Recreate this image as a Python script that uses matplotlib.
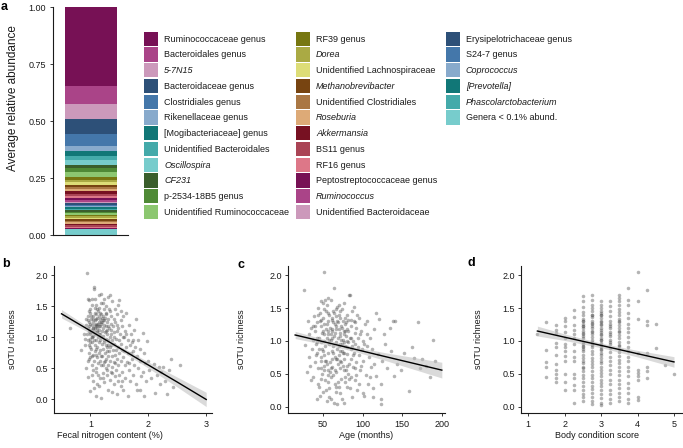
import numpy as np
import matplotlib

matplotlib.use("Agg")
import matplotlib.pyplot as plt
from matplotlib.patches import Rectangle

plt.rcParams["font.family"] = ["Liberation Sans", "DejaVu Sans"]

# ---- panel a: genus composition (top of stack first) ----
genera = [
    "Ruminococcaceae genus", "Bacteroidales genus", "5-7N15", "Bacteroidaceae genus",
    "Clostridiales genus", "Rikenellaceae genus", "[Mogibacteriaceae] genus",
    "Unidentified Bacteroidales", "Oscillospira", "CF231", "p-2534-18B5 genus",
    "Unidentified Ruminococcaceae", "RF39 genus", "Dorea", "Unidentified Lachnospiraceae",
    "Methanobrevibacter", "Unidentified Clostridiales", "Roseburia", "Akkermansia",
    "BS11 genus", "RF16 genus", "Peptostreptococcaceae genus", "Ruminococcus",
    "Unidentified Bacteroidaceae", "Erysipelotrichaceae genus", "S24-7 genus",
    "Coprococcus", "[Prevotella]", "Phascolarctobacterium",
]
genus_abund = [
    0.347, 0.076, 0.067, 0.067, 0.050, 0.023, 0.022, 0.018, 0.022, 0.014,
    0.019, 0.018, 0.015, 0.011, 0.012, 0.009, 0.009, 0.009, 0.012, 0.008,
    0.009, 0.009, 0.009, 0.006, 0.005, 0.006, 0.006, 0.006, 0.006,
]
# further genera drawn in the bar but not named in the legend
other_abund = [0.008, 0.007, 0.007, 0.006, 0.006, 0.007, 0.006, 0.007, 0.006,
               0.006, 0.007, 0.006, 0.006]
rare_label = "Genera < 0.1% abund."
rare_abund = 0.025
italic_names = {"5-7N15", "Oscillospira", "CF231", "Dorea", "Methanobrevibacter",
                "Roseburia", "Akkermansia", "Ruminococcus", "Coprococcus",
                "[Prevotella]", "Phascolarctobacterium"}

palette = [
    "#771155", "#AA4488", "#CC99BB", "#2D5078", "#4477AA", "#88AACC", "#117777",
    "#44AAAA", "#77CCCC", "#3A5E2C", "#4F8A36", "#8CC770", "#777711", "#AAAA44",
    "#DDDD77", "#774411", "#AA7744", "#DDAA77", "#771122", "#AA4455", "#DD7788",
]

# ---- panels b-d: sOTU richness ----
nitrogen_pct = [
    0.65, 0.84, 0.88, 0.90, 0.90, 0.92, 0.92, 0.93, 0.94, 0.94,
    0.95, 0.95, 0.95, 0.96, 0.96, 0.96, 0.97, 0.97, 0.97, 0.98,
    0.98, 0.98, 0.99, 0.99, 0.99, 1.00, 1.00, 1.00, 1.00, 1.01,
    1.01, 1.01, 1.02, 1.02, 1.02, 1.03, 1.03, 1.03, 1.04, 1.04,
    1.04, 1.05, 1.05, 1.05, 1.06, 1.06, 1.06, 1.06, 1.07, 1.07,
    1.07, 1.08, 1.08, 1.08, 1.09, 1.09, 1.09, 1.10, 1.10, 1.10,
    1.10, 1.11, 1.11, 1.11, 1.12, 1.12, 1.12, 1.13, 1.13, 1.13,
    1.14, 1.14, 1.14, 1.15, 1.15, 1.15, 1.16, 1.16, 1.16, 1.17,
    1.17, 1.17, 1.18, 1.18, 1.18, 1.19, 1.19, 1.19, 1.20, 1.20,
    1.20, 1.21, 1.21, 1.21, 1.22, 1.22, 1.22, 1.23, 1.23, 1.23,
    1.24, 1.24, 1.24, 1.25, 1.25, 1.25, 1.26, 1.26, 1.26, 1.27,
    1.27, 1.27, 1.28, 1.28, 1.28, 1.29, 1.29, 1.30, 1.30, 1.30,
    1.31, 1.31, 1.31, 1.32, 1.32, 1.33, 1.33, 1.33, 1.34, 1.34,
    1.35, 1.35, 1.35, 1.36, 1.36, 1.37, 1.37, 1.38, 1.38, 1.38,
    1.39, 1.39, 1.40, 1.40, 1.40, 1.41, 1.41, 1.42, 1.42, 1.43,
    1.43, 1.44, 1.44, 1.45, 1.45, 1.46, 1.46, 1.47, 1.47, 1.48,
    1.48, 1.49, 1.50, 1.50, 1.50, 1.51, 1.52, 1.52, 1.53, 1.53,
    1.54, 1.55, 1.55, 1.56, 1.57, 1.57, 1.58, 1.59, 1.60, 1.60,
    1.61, 1.62, 1.63, 1.64, 1.64, 1.65, 1.66, 1.67, 1.68, 1.69,
    1.70, 1.71, 1.72, 1.73, 1.74, 1.75, 1.76, 1.77, 1.78, 1.79,
    1.80, 1.80, 1.82, 1.83, 1.85, 1.85, 1.86, 1.88, 1.90, 1.90,
    1.92, 1.93, 1.95, 1.96, 1.98, 2.00, 2.02, 2.05, 2.09, 2.12,
    2.15, 2.18, 2.20, 2.22, 2.26, 2.28, 2.33, 2.35, 2.39, 2.42,
    2.55, 1.05, 1.08, 1.12, 1.00, 1.15, 1.03, 1.10, 1.20, 1.13,
    0.96, 0.98, 1.00, 1.02, 1.04, 1.06, 1.08, 1.10, 1.12, 1.14,
    1.16, 1.18, 1.20, 1.22, 1.24, 1.26, 1.28, 1.30, 1.32, 1.34,
    0.97, 0.99, 1.01, 1.03, 1.05, 1.07, 1.09, 1.11, 1.13, 1.15,
    1.17, 1.19, 1.21, 1.23, 1.25, 1.27, 1.29, 1.36, 1.42, 1.46,
    1.02, 1.06, 1.10, 1.14, 1.18, 1.22, 1.26, 1.30, 1.38, 1.44,
    1.52, 1.56, 1.58, 1.62, 1.66, 1.70, 1.74, 1.48, 1.54, 1.40,
]
nitrogen_rich = [
    1.15, 0.79, 1.05, 0.88, 0.97, 1.20, 0.50, 1.30, 2.04, 1.05,
    0.36, 1.15, 0.62, 1.35, 0.95, 1.62, 1.10, 1.25, 0.88, 0.75,
    1.60, 1.18, 1.05, 0.14, 1.40, 1.45, 0.68, 1.22, 0.98, 1.12,
    0.82, 1.30, 1.08, 0.55, 1.52, 1.20, 0.92, 0.40, 1.15, 1.35,
    0.72, 1.02, 1.25, 0.30, 1.81, 1.78, 1.10, 0.62, 1.48, 0.88,
    1.28, 1.05, 0.78, 1.62, 1.18, 0.45, 1.38, 0.06, 0.95, 1.22,
    1.52, 1.08, 0.68, 1.32, 1.15, 0.85, 0.25, 1.42, 1.00, 0.58,
    1.25, 0.75, 1.68, 1.12, 0.92, 1.48, 1.30, 0.62, 1.05, 0.35,
    1.18, 0.80, 0.02, 1.38, 1.00, 1.22, 0.55, 1.55, 0.90, 1.10,
    0.70, 1.28, 0.42, 1.02, 1.35, 0.82, 1.15, 0.60, 1.45, 0.95,
    1.20, 0.28, 1.62, 1.08, 0.75, 1.32, 0.88, 1.18, 0.50, 1.40,
    0.98, 0.65, 1.25, 0.40, 1.05, 0.85, 1.12, 1.65, 0.70, 0.15,
    1.30, 0.95, 0.55, 1.15, 0.78, 1.42, 1.00, 0.32, 1.68, 0.62,
    1.22, 0.88, 0.45, 1.35, 1.05, 0.70, 0.12, 1.58, 0.95, 0.52,
    1.18, 0.80, 1.30, 0.60, 0.25, 1.08, 0.90, 1.45, 0.38, 0.72,
    1.25, 0.98, 0.48, 1.10, 0.08, 1.38, 0.65, 0.85, 0.30, 1.15,
    0.55, 0.95, 1.60, 0.75, 0.40, 1.05, 0.21, 1.28, 0.62, 0.90,
    1.18, 0.45, 0.80, 1.35, 0.68, 0.15, 1.00, 0.55, 1.10, 0.35,
    0.85, 1.39, 0.60, 0.06, 0.95, 0.75, 1.20, 0.48, 0.88, 0.30,
    1.05, 0.65, 0.92, 0.40, 0.78, 1.12, 0.55, 0.85, 0.25, 1.29,
    0.16, 0.70, 0.95, 0.50, 0.16, 0.82, 0.62, 0.38, 1.07, 0.45,
    0.06, 0.75, 0.58, 0.30, 0.94, 0.62, 0.48, 0.35, 0.57, 0.10,
    0.40, 0.52, 0.25, 0.45, 0.52, 0.30, 0.08, 0.48, 0.65, 0.20,
    0.56, 1.15, 1.20, 1.10, 1.08, 1.18, 1.00, 1.30, 1.25, 1.22,
    1.28, 1.42, 0.85, 1.00, 1.30, 0.95, 1.40, 0.72, 1.20, 1.05,
    1.40, 1.25, 1.32, 0.55, 0.92, 1.50, 0.78, 1.18, 1.45, 0.85,
    0.65, 0.92, 1.35, 0.70, 0.48, 1.15, 0.82, 1.45, 0.40, 1.35,
    0.95, 0.70, 1.55, 1.28, 0.62, 1.10, 0.48, 1.12, 0.58, 1.20,
    1.62, 0.18, 0.50, 0.22, 1.70, 0.35, 1.38, 0.88, 0.42, 0.80,
    1.42, 1.00, 0.78, 1.05, 0.58, 0.75, 0.95, 1.52, 0.30, 1.00,
]

age_months = [
    26, 28, 30, 31, 32, 33, 34, 35, 36, 37,
    38, 39, 40, 40, 41, 42, 42, 43, 44, 44,
    45, 45, 46, 46, 47, 47, 48, 48, 49, 49,
    50, 50, 50, 51, 51, 52, 52, 52, 53, 53,
    54, 54, 55, 55, 55, 56, 56, 57, 57, 57,
    58, 58, 59, 59, 60, 60, 60, 61, 61, 62,
    62, 63, 63, 64, 64, 64, 65, 65, 65, 66,
    66, 67, 67, 68, 68, 68, 69, 69, 69, 70,
    70, 71, 71, 72, 72, 72, 73, 73, 74, 74,
    75, 75, 75, 76, 76, 77, 77, 78, 78, 78,
    79, 79, 80, 80, 81, 81, 82, 82, 83, 83,
    84, 84, 85, 85, 86, 86, 87, 87, 88, 88,
    89, 89, 90, 90, 91, 92, 92, 93, 94, 95,
    96, 97, 98, 99, 100, 100, 101, 102, 103, 104,
    105, 106, 107, 108, 110, 111, 112, 113, 113, 115,
    117, 117, 119, 121, 123, 123, 123, 125, 127, 128,
    131, 134, 136, 138, 140, 141, 143, 148, 152, 158,
    162, 165, 170, 173, 175, 180, 185, 189, 192, 60,
    55, 58, 62, 65, 68, 70, 72, 74, 76, 78,
    45, 48, 52, 56, 60, 63, 66, 70, 73, 80,
    42, 50, 54, 58, 62, 66, 70, 74, 78, 82,
    35, 38, 44, 47, 53, 57, 63, 67, 71, 76,
    40, 43, 46, 49, 52, 55, 58, 61, 64, 67,
    70, 73, 76, 79, 82, 85, 88, 91, 94, 97,
    41, 44, 47, 50, 53, 56, 59, 62, 65, 68,
    71, 74, 77, 80, 83, 86, 89, 92, 95, 98,
    48, 51, 54, 57, 60, 63, 66, 69, 72, 75,
    78, 81, 84, 87, 90, 93, 102, 106, 110, 115,
]
age_rich = [
    1.78, 0.94, 0.52, 1.31, 0.75, 1.10, 0.62, 1.20, 0.88, 1.02,
    0.45, 1.38, 0.68, 1.15, 0.95, 0.11, 1.28, 0.82, 1.50, 0.58,
    1.05, 0.30, 0.16, 1.42, 0.75, 1.22, 0.98, 1.60, 0.50, 1.12,
    0.85, 1.35, 0.22, 2.05, 1.00, 0.62, 1.25, 1.48, 0.92, 0.40,
    1.18, 0.70, 1.55, 1.05, 0.09, 0.82, 1.30, 0.55, 1.10, 1.42,
    0.95, 0.28, 1.20, 0.68, 1.62, 1.02, 0.45, 1.32, 0.85, 1.15,
    0.60, 1.45, 0.92, 1.81, 0.06, 1.08, 1.25, 0.75, 0.35, 1.38,
    0.98, 1.18, 0.52, 1.52, 0.88, 0.045, 1.28, 0.65, 1.05, 1.40,
    0.78, 1.12, 0.20, 1.35, 0.95, 0.58, 1.22, 0.42, 1.48, 0.85,
    1.02, 1.30, 0.62, 1.15, 0.05, 0.72, 1.58, 0.92, 1.25, 0.38,
    1.08, 0.55, 1.40, 0.80, 1.18, 0.30, 0.98, 1.32, 1.70, 0.65,
    1.70, 1.05, 0.88, 0.45, 1.22, 0.72, 1.45, 0.15, 1.00, 0.60,
    1.30, 0.82, 1.12, 0.40, 0.95, 1.20, 0.68, 0.25, 1.05, 0.78,
    1.35, 0.55, 1.15, 0.88, 0.21, 1.00, 0.70, 0.16, 1.25, 0.48,
    0.92, 1.10, 0.35, 0.75, 1.05, 0.60, 0.88, 0.14, 0.29, 1.18,
    1.43, 0.46, 0.80, 1.34, 0.35, 0.11, 0.035, 0.70, 1.11, 0.95,
    0.58, 1.20, 0.85, 1.31, 0.46, 1.31, 0.65, 0.56, 0.82, 0.24,
    0.90, 0.74, 1.29, 0.59, 0.73, 0.62, 0.45, 1.02, 0.70, 1.10,
    1.25, 1.40, 1.18, 1.12, 1.30, 0.92, 1.08, 1.20, 0.98, 1.15,
    0.88, 0.70, 0.78, 0.48, 0.58, 0.82, 0.72, 0.30, 0.68, 0.90,
    1.05, 1.15, 1.45, 0.15, 1.35, 0.22, 1.55, 0.12, 0.45, 0.50,
    0.40, 1.22, 0.35, 1.32, 1.62, 0.38, 0.48, 0.30, 0.85, 0.55,
    1.22, 0.98, 1.30, 0.88, 1.10, 0.65, 1.02, 0.72, 1.42, 1.22,
    1.18, 1.02, 0.82, 1.28, 1.15, 1.32, 0.78, 0.58, 0.90, 1.10,
    0.78, 1.40, 0.58, 1.58, 0.70, 1.15, 0.52, 1.05, 0.55, 0.72,
    1.45, 0.95, 1.10, 0.62, 0.42, 1.05, 1.52, 0.48, 0.35, 0.62,
    0.42, 0.55, 0.25, 1.65, 0.12, 1.28, 1.48, 0.38, 0.70, 0.82,
    1.35, 1.00, 0.28, 0.92, 1.28, 1.40, 0.95, 1.30, 0.45, 0.65,
]

# body condition score is recorded in quarter steps: richness values per score
bcs_levels = [1.25, 1.5, 1.75, 2.0, 2.25, 2.5, 2.75, 3.0, 3.25, 3.5, 3.75,
              4.0, 4.25, 4.5, 4.75, 5.0]
bcs_rich = [
    [1.10],
    [1.29, 0.86, 0.68, 0.60, 0.45],
    [1.24, 1.16, 1.12, 0.97, 0.90, 0.79, 0.65, 0.56, 0.49, 0.44, 0.38],
    [1.35, 1.30, 1.22, 1.14, 1.05, 0.96, 0.90, 0.84, 0.77, 0.69, 0.50, 0.38, 0.26],
    [1.47, 1.36, 1.24, 1.16, 1.11, 1.04, 0.95, 0.84, 0.75, 0.69, 0.50, 0.44, 0.33,
     0.26, 0.06],
    [1.69, 1.60, 1.51, 1.44, 1.39, 1.34, 1.30, 1.26, 1.23, 1.19, 1.15, 1.11, 1.08,
     1.04, 0.99, 0.95, 0.91, 0.88, 0.84, 0.79, 0.74, 0.70, 0.66, 0.61, 0.58, 0.54,
     0.48, 0.43, 0.38, 0.31, 0.26, 0.19, 0.14, 0.08, 1.22, 1.30, 1.12, 0.92],
    [1.70, 1.63, 1.55, 1.50, 1.45, 1.40, 1.36, 1.31, 1.27, 1.23, 1.19, 1.14, 1.10,
     1.06, 1.02, 0.98, 0.94, 0.90, 0.85, 0.80, 0.74, 0.70, 0.65, 0.60, 0.54, 0.48,
     0.43, 0.38, 0.32, 0.27, 0.20, 0.14, 0.08, 0.04, 1.25, 1.15, 1.40, 0.95],
    [1.60, 1.55, 1.50, 1.46, 1.43, 1.39, 1.35, 1.31, 1.28, 1.24, 1.20, 1.17, 1.13,
     1.09, 1.05, 1.01, 0.97, 0.93, 0.90, 0.86, 0.82, 0.78, 0.74, 0.70, 0.66, 0.61,
     0.56, 0.51, 0.46, 0.41, 0.36, 0.31, 0.25, 0.19, 0.13, 0.06, 0.03, 1.25, 1.10,
     1.40, 1.02, 0.88],
    [1.60, 1.53, 1.45, 1.38, 1.31, 1.25, 1.19, 1.13, 1.07, 1.01, 0.95, 0.89, 0.83,
     0.76, 0.70, 0.64, 0.56, 0.49, 0.41, 0.34, 0.26, 0.19, 0.11, 0.05, 1.22, 1.10,
     0.98],
    [1.70, 1.66, 1.61, 1.55, 1.49, 1.44, 1.39, 1.34, 1.29, 1.24, 1.19, 1.14, 1.09,
     1.04, 0.99, 0.94, 0.88, 0.83, 0.77, 0.71, 0.66, 0.60, 0.54, 0.48, 0.41, 0.35,
     0.29, 0.21, 0.14, 0.08, 1.30, 1.15, 0.92],
    [1.81, 1.63, 1.54, 1.43, 1.35, 1.26, 1.19, 1.14, 1.06, 0.99, 0.90, 0.84, 0.76,
     0.69, 0.61, 0.54, 0.46, 0.36, 0.29, 0.20, 0.11, 0.05],
    [2.05, 1.60, 1.34, 0.81, 0.56, 0.51, 0.46, 0.41, 0.15, 0.10],
    [1.78, 1.31, 1.24, 0.81, 0.60, 0.54, 0.44],
    [1.26, 0.89],
    [0.63],
    [0.49],
]

# fitted lines with half-width of the confidence band
fits = {
    "b": dict(x=[0.5, 1.0, 1.5, 2.0, 2.5, 3.0], y=[1.38, 1.105, 0.83, 0.555, 0.28, 0.0],
              hw=[0.068, 0.04, 0.035, 0.05, 0.08, 0.115]),
    "c": dict(x=[15, 50, 90, 130, 170, 200], y=[1.09, 0.99, 0.874, 0.757, 0.642, 0.555],
              hw=[0.055, 0.04, 0.035, 0.06, 0.095, 0.12]),
    "d": dict(x=[1.25, 2.0, 3.0, 4.0, 5.0], y=[1.15, 1.056, 0.931, 0.805, 0.68],
              hw=[0.075, 0.05, 0.035, 0.05, 0.08]),
}

W, H = 683, 448
fig = plt.figure(figsize=(W / 100, H / 100), dpi=100)
FS = 6.5
INK = "#1a1a1a"


def px_axes(left, right, top, bottom):
    return fig.add_axes((left / W, 1 - bottom / H, (right - left) / W, (bottom - top) / H))


def style(ax):
    for s in ["top", "right"]:
        ax.spines[s].set_visible(False)
    for s in ["left", "bottom"]:
        ax.spines[s].set_linewidth(0.8)
        ax.spines[s].set_color(INK)
    ax.tick_params(length=2.2, width=0.6, color=INK, labelsize=FS, labelcolor=INK, pad=2)


# ---- panel a ----
ax = px_axes(53, 128, 7.5, 235)
style(ax)
heights = list(genus_abund) + list(other_abund) + [rare_abund]
colors = [palette[i % 21] for i in range(len(genus_abund))]
colors += [palette[(30 + j) % 21] for j in range(len(other_abund))]
colors += [palette[29 % 21]]
tops = 1 - np.concatenate([[0], np.cumsum(heights)[:-1]])
for h, t, c in zip(heights, tops, colors):
    ax.bar(1, h, bottom=t - h, width=1.0, color=c, linewidth=0)
ax.set_xlim(0.27, 1.71)
ax.set_ylim(0, 1)
ax.set_xticks([])
ax.set_yticks([0, 0.25, 0.5, 0.75, 1.0], ["0.00", "0.25", "0.50", "0.75", "1.00"])
ax.tick_params(axis="y", pad=3)
ax.set_ylabel("Average relative abundance", fontsize=8.5, color=INK)
ax.yaxis.set_label_coords(-0.45, 0.6)

# legend: 12 rows per column, square keys
leg_labels = list(genera) + [rare_label]
leg_colors = colors[:len(genera)] + [palette[29 % 21]]
col_x = [144, 296, 445.7]
row_top, row_pitch, key = 31.7, 15.75, 14.2
for i, (lab, c) in enumerate(zip(leg_labels, leg_colors)):
    col, row = divmod(i, 12)
    x0 = col_x[col]
    y0 = row_top + row * row_pitch
    fig.patches.append(Rectangle((x0 / W, 1 - (y0 + key) / H), key / W, key / H,
                                 transform=fig.transFigure, facecolor=c,
                                 edgecolor="none"))
    fig.text((x0 + key + 6) / W, 1 - (y0 + key / 2 + 0.3) / H, lab, fontsize=FS,
             color=INK, va="center", ha="left",
             fontstyle="italic" if lab in italic_names else "normal")

# ---- panels b-d ----
panels = [
    ("b", px_axes(54, 212, 266, 412.5), nitrogen_pct, nitrogen_rich,
     "Fecal nitrogen content (%)", (0.37, 3.1), (-0.21, 2.15), [1, 2, 3], 0.354, -0.236),
    ("c", px_axes(287.7, 445, 266, 412.5), age_months, age_rich,
     "Age (months)", (5.6, 204), (-0.09, 2.14), [50, 100, 150, 200], 0.5, -0.265),
    ("d", px_axes(521, 682, 266, 412.5),
     [lv for lv, ys in zip(bcs_levels, bcs_rich) for _ in ys],
     [y for ys in bcs_rich for y in ys],
     "Body condition score", (0.8, 5.22), (-0.09, 2.14), [1, 2, 3, 4, 5], 0.475, -0.236),
]
for key_, ax, xs, ys, xlabel, xlim, ylim, xt, xlab_x, ylab_x in panels:
    style(ax)
    ax.tick_params(axis="x", pad=3)
    ax.scatter(xs, ys, s=6.5, color="#4d4d4d", alpha=0.42, linewidths=0, zorder=2)
    f = fits[key_]
    fx = np.array(f["x"], dtype=float)
    fy = np.array(f["y"])
    hw = np.array(f["hw"])
    ax.fill_between(fx, fy - hw, fy + hw, color="#bdbdbd", alpha=0.55, linewidth=0, zorder=3)
    ax.plot(fx, fy, color="black", lw=1.0, zorder=4)
    ax.set_xlim(*xlim)
    ax.set_ylim(*ylim)
    ax.set_xticks(xt)
    ax.set_yticks([0, 0.5, 1.0, 1.5, 2.0], ["0.0", "0.5", "1.0", "1.5", "2.0"])
    ax.set_xlabel(xlabel, fontsize=FS, color=INK)
    ax.set_ylabel("sOTU richness", fontsize=FS, color=INK)
    ax.xaxis.set_label_coords(xlab_x, -0.125)
    ax.yaxis.set_label_coords(ylab_x, 0.5)

for letter, x, y in [("a", 1, 1), ("b", 2, 258), ("c", 237, 259), ("d", 467, 257)]:
    fig.text(x / W, 1 - y / H, letter, fontsize=9, fontweight="bold", va="top", ha="left")

fig.savefig("out.png", dpi=100)
